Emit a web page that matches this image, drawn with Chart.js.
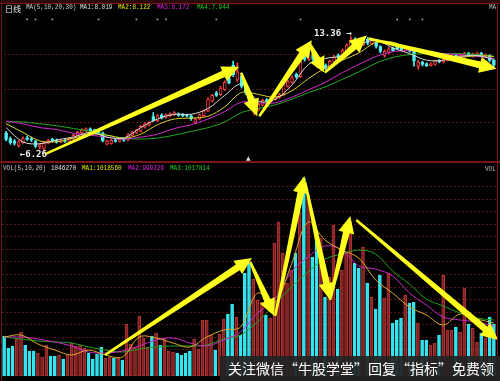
<!DOCTYPE html>
<html><head><meta charset="utf-8">
<script src="https://cdn.jsdelivr.net/npm/chart.js@4.4.1/dist/chart.umd.min.js"></script>
<style>
html,body{margin:0;padding:0;background:#000;width:500px;height:381px;overflow:hidden;}
#wrap{position:relative;width:500px;height:381px;overflow:hidden;background:#000;}
canvas{position:absolute;left:0;}
.t{position:absolute;font:8px "Liberation Mono",monospace;line-height:8px;white-space:nowrap;transform:scaleX(0.75);transform-origin:0 0;}
.ln{position:absolute;}
#wm{position:absolute;left:220px;top:356px;width:280px;height:25px;background:rgba(36,36,36,0.93);}
#wmt{position:absolute;left:228px;top:359px;font:14px "Noto Sans CJK SC",sans-serif;color:#fff;line-height:18px;white-space:nowrap;}
</style></head>
<body>
<div id="wrap">
  <div class="ln" style="left:0;top:0;width:500px;height:3px;background:#2c0b0b"></div>
  <div class="ln" style="left:0;top:3px;width:500px;height:1px;background:#7a1515"></div>
  <canvas id="pc" width="500" height="156" style="top:5px"></canvas>
  <canvas id="vc" width="500" height="215" style="top:163px"></canvas>
  <div class="ln" style="left:1px;top:4px;width:1px;height:377px;background:#6a1414"></div>
  <div class="ln" style="left:497px;top:4px;width:1px;height:377px;background:#8b1a1a"></div>
  <div class="ln" style="left:0;top:161px;width:500px;height:2px;background:#7a1515"></div>

  <div class="t" style="left:5px;top:3px;font:8px 'Noto Sans CJK SC';transform:none;color:#e8e8e8">日线</div>
  <div class="t" style="left:26px;top:3px;color:#d0d0d0">MA(5,10,20,30)</div>
  <div class="t" style="left:80px;top:3px;color:#e0e0e0">MA1:8.019</div>
  <div class="t" style="left:118px;top:3px;color:#e6e600">MA2:8.122</div>
  <div class="t" style="left:157px;top:3px;color:#e020e0">MA3:8.172</div>
  <div class="t" style="left:197px;top:3px;color:#20d020">MA4:7.944</div>
  <div class="t" style="left:489px;top:3px;color:#bbbbbb">MA</div>
  <div class="t" style="left:246px;top:154px;font:6px 'DejaVu Sans';transform:none;color:#dddddd">▲</div>

  <div class="t" style="left:3px;top:164px;color:#d0d0d0">VOL(5,10,20)</div>
  <div class="t" style="left:51px;top:164px;color:#e0e0e0">1046270</div>
  <div class="t" style="left:82px;top:164px;color:#e6e600">MA1:1018560</div>
  <div class="t" style="left:128px;top:164px;color:#e020e0">MA2:999226</div>
  <div class="t" style="left:170px;top:164px;color:#20d020">MA3:1017814</div>
  <div class="t" style="left:485px;top:165px;color:#bbbbbb">VOL</div>

  <div id="wm"></div>
  <div id="wmt">关注微信“牛股学堂”回复“指标”免费领</div>
</div>
<script>
// ---------- data ----------
const openP = [7.45,7.10,6.95,6.65,6.85,7.15,7.10,6.95,6.60,6.50,
 6.82,7.05,7.00,6.88,7.00,6.92,7.08,7.28,7.45,7.58,
 7.70,7.62,7.55,7.45,6.75,6.80,7.02,6.92,7.08,7.00,
 7.30,7.45,7.55,7.80,7.92,8.45,8.20,8.55,8.40,8.50,
 8.55,8.62,8.58,8.55,8.50,8.10,8.30,8.50,8.80,9.40,
 9.90,9.80,10.10,10.80,11.60,10.70,10.95,10.30,9.95,8.70,
 8.85,9.15,9.50,9.38,9.50,9.62,9.80,10.30,10.55,11.05,
 10.90,12.10,11.95,12.30,11.90,11.40,11.60,11.45,11.80,12.20,
 12.10,12.45,12.75,13.20,13.05,12.85,13.20,12.90,13.00,12.75,
 12.20,12.40,12.65,12.75,12.65,12.55,12.60,12.45,11.55,11.80,
 11.70,11.58,11.65,11.90,11.80,11.90,12.00,12.20,12.05,12.15,
 12.35,12.15,12.25,12.35,12.15,12.20,11.90];
const closeP = [7.05,6.85,6.80,6.90,7.10,7.05,7.00,6.62,6.70,6.85,
 6.98,6.95,6.88,6.98,6.92,7.10,7.30,7.48,7.62,7.70,
 7.58,7.52,7.45,6.95,6.95,7.00,6.92,7.05,6.98,7.35,
 7.50,7.62,7.85,8.00,8.10,8.20,8.50,8.35,8.55,8.62,
 8.70,8.52,8.50,8.48,8.30,8.30,8.55,8.80,9.50,9.75,
 9.75,10.20,10.55,10.50,11.00,11.20,10.30,9.90,9.10,8.90,
 9.20,9.45,9.38,9.55,9.68,9.80,10.40,10.60,10.85,10.90,
 11.80,11.95,12.25,11.95,11.55,11.60,11.40,11.85,12.10,12.05,
 12.50,12.80,13.15,12.95,12.80,13.05,12.95,13.10,12.75,12.45,
 12.45,12.60,12.50,12.60,12.55,12.62,12.45,11.85,11.80,11.65,
 11.58,11.68,11.85,11.80,11.95,12.05,12.15,12.05,12.20,12.35,
 12.20,12.30,12.35,12.20,12.25,11.90,11.60];
const highP = [7.55,7.20,7.05,6.98,7.20,7.25,7.20,7.00,6.78,6.90,
 7.05,7.12,7.08,7.05,7.06,7.16,7.36,7.55,7.70,7.76,
 7.76,7.68,7.62,7.50,7.00,7.05,7.08,7.10,7.12,7.40,
 7.55,7.68,7.92,8.08,8.15,8.70,8.58,8.62,8.62,8.68,
 8.76,8.68,8.64,8.60,8.56,8.36,8.62,8.86,9.60,9.82,
 10.00,10.30,10.65,10.95,11.85,11.75,11.10,10.40,10.00,9.00,
 9.28,9.52,9.56,9.62,9.75,9.88,10.50,10.70,10.95,11.12,
 11.95,12.30,12.45,12.40,12.00,11.70,11.68,11.92,12.20,12.30,
 12.60,12.90,13.36,13.30,13.15,13.15,13.30,13.20,13.05,12.80,
 12.55,12.70,12.72,12.85,12.72,12.70,12.65,12.50,11.90,11.85,
 11.75,11.75,11.90,11.95,12.00,12.10,12.20,12.25,12.25,12.40,
 12.40,12.35,12.40,12.40,12.30,12.25,11.95];
const lowP = [6.95,6.75,6.70,6.58,6.80,6.98,6.92,6.55,6.45,6.26,
 6.78,6.90,6.82,6.84,6.86,6.88,7.04,7.24,7.40,7.52,
 7.52,7.46,7.40,6.90,6.70,6.75,6.88,6.88,6.92,6.96,
 7.26,7.40,7.50,7.74,7.88,8.15,8.15,8.30,8.35,8.45,
 8.50,8.46,8.44,8.42,8.22,8.02,8.25,8.45,8.75,9.35,
 9.68,9.75,10.05,10.45,10.90,10.60,10.20,9.80,9.05,8.55,
 8.80,9.10,9.30,9.32,9.45,9.58,9.75,10.25,10.50,10.80,
 10.85,11.85,11.90,11.80,11.45,11.30,11.30,11.40,11.75,11.95,
 12.05,12.40,12.70,12.85,12.70,12.80,12.85,12.85,12.65,12.35,
 12.10,12.30,12.45,12.55,12.50,12.50,12.40,11.55,11.35,11.55,
 11.52,11.55,11.60,11.75,11.75,11.85,11.95,12.00,12.00,12.10,
 12.15,12.10,12.20,12.15,12.10,11.80,11.50];
const volume = [800000,560000,600000,740000,880000,620000,500000,500000,460000,380000,
 620000,400000,400000,420000,340000,420000,660000,600000,620000,560000,
 460000,340000,440000,580000,360000,380000,360000,380000,320000,1040000,
 640000,580000,1200000,760000,580000,800000,860000,620000,760000,500000,
 480000,460000,420000,460000,500000,740000,540000,1120000,1120000,820000,
 520000,840000,1140000,1240000,1440000,1180000,820000,2060000,2260000,1940000,
 1520000,1480000,1220000,1160000,2660000,3080000,2460000,1860000,2120000,2460000,
 3280000,3960000,3620000,2380000,2880000,2760000,1580000,1980000,3020000,1740000,
 2120000,2460000,3080000,2260000,2160000,2580000,1860000,1580000,1340000,2020000,
 1560000,2060000,1060000,1120000,1160000,1620000,1460000,1480000,1060000,720000,
 720000,620000,660000,820000,2020000,920000,920000,980000,880000,1760000,
 1040000,960000,680000,860000,760000,1180000,1040000];

// moving-average lines at every 4th bar
const maAt = [0,4,8,12,16,20,24,28,32,36,40,44,48,52,56,60,64,68,72,76,80,84,88,92,96,100,104,108,112,116];
const priceMA5  = [7.77,6.90,6.78,7.02,7.19,7.48,7.19,7.13,7.77,8.30,8.59,8.59,8.94,9.75,10.45,9.40,9.52,10.39,11.67,12.02,12.19,12.84,13.13,12.66,12.31,11.91,11.91,12.14,12.19,11.96];
const priceMA10 = [8.01,7.48,6.96,6.90,7.13,7.37,7.31,7.13,7.37,7.95,8.30,8.36,8.47,9.05,9.93,9.81,9.64,10.04,10.80,11.44,11.91,12.37,13.01,13.01,12.60,12.31,12.08,12.08,12.19,12.14];
const priceMA20 = [8.18,8.01,7.77,7.66,7.42,7.31,7.19,7.07,7.19,7.37,7.72,7.95,8.30,8.76,9.34,9.29,9.29,9.64,10.10,10.57,11.15,11.67,12.14,12.43,12.49,12.43,12.31,12.25,12.14,12.02];
const priceMA30 = [8.12,8.12,8.01,7.89,7.72,7.54,7.31,7.13,7.07,7.13,7.31,7.54,7.77,8.12,8.70,8.94,9.17,9.52,9.93,10.28,10.74,11.21,11.73,12.08,12.25,12.31,12.31,12.31,12.25,12.14];
const volMA5  = [780000,820000,640000,520000,420000,520000,420000,380000,780000,760000,660000,580000,780000,920000,980000,1660000,1460000,2220000,3080000,2720000,2520000,2360000,1920000,1660000,1380000,1220000,1020000,1240000,1140000,1060000];
const volMA10 = [780000,780000,740000,680000,600000,480000,460000,500000,600000,720000,760000,660000,600000,720000,880000,1260000,1520000,2080000,2380000,2600000,2520000,2200000,2140000,2000000,1660000,1420000,1180000,1120000,1080000,1000000];
const volMA20 = [780000,740000,700000,680000,660000,580000,520000,480000,540000,580000,600000,600000,620000,740000,820000,1080000,1420000,1780000,2080000,2340000,2440000,2520000,2440000,2100000,1840000,1540000,1400000,1260000,1160000,1120000];

const priceGrid = [8.06,10.10,12.25];
const volGrid = [3786000,3535000,3284000,3033000,2782000,2531000,2280000,2029000,1778000,1527000,1276000,1025000,774000,523000];
const markIdx = [5,7,11,22,31,36,38,50,70,93,96,99];
const markLevel = 14.41;

// arrows in data space: [fromIndex, fromValue, toIndex, toValue]
const priceArrows = [[9.2,6.14,55.4,11.50],[55.9,11.15,59.7,8.47],[60.2,8.47,72.7,13.13],[72.0,13.01,75.6,11.15],[75.8,11.15,85.8,13.42],[86.2,13.24,116.6,11.38]];
const volArrows = [[23.9,420000,58.7,2360000],[58.3,2280000,64.0,1200000],[64.2,1200000,71.1,4000000],[71.3,3880000,77.2,1520000],[77.2,1520000,82.0,3200000],[83.4,3120000,117.0,720000]];

// ---------- styles ----------
const UP = '#ff3c3c', DOWN = '#4ff0f4';
const VUP_FILL = '#7d2222', VUP_EDGE = '#b83434', VDOWN = '#36e4ee';
const idx = openP.map((_, i) => i);
const isUp = i => closeP[i] >= openP[i];

function drawArrow(ctx, x0, y0, x1, y1) {
  const dx = x1 - x0, dy = y1 - y0, L = Math.hypot(dx, dy);
  const ux = dx / L, uy = dy / L, nx = -uy, ny = ux;
  const H = Math.min(17, L * 0.45), W = 8, w0 = 1.2, w1 = 3.4;
  const bx = x1 - ux * H, by = y1 - uy * H;
  ctx.beginPath();
  ctx.moveTo(x0 + nx * w0, y0 + ny * w0);
  ctx.lineTo(bx + nx * w1, by + ny * w1);
  ctx.lineTo(bx + nx * W, by + ny * W);
  ctx.lineTo(x1, y1);
  ctx.lineTo(bx - nx * W, by - ny * W);
  ctx.lineTo(bx - nx * w1, by - ny * w1);
  ctx.lineTo(x0 - nx * w0, y0 - ny * w0);
  ctx.closePath();
  ctx.fillStyle = '#ffff1e';
  ctx.fill();
}

const overlay = {
  id: 'overlay',
  afterDatasetsDraw(chart, args, opts) {
    const ctx = chart.ctx, xs = chart.scales.x, ys = chart.scales.y;
    ctx.save();
    (opts.arrows || []).forEach(a => drawArrow(ctx,
      xs.getPixelForValue(a[0]), ys.getPixelForValue(a[1]),
      xs.getPixelForValue(a[2]), ys.getPixelForValue(a[3])));
    if (opts.extremes) {
      ctx.font = 'bold 9px "DejaVu Sans Mono"';
      ctx.fillStyle = '#f0f0f0';
      ctx.textBaseline = 'middle';
      ctx.textAlign = 'right';
      const lo = Math.min(...lowP), li = lowP.indexOf(lo);
      const hi = Math.max(...highP), hj = highP.indexOf(hi);
      ctx.fillText('←' + lo.toFixed(2), xs.getPixelForValue(li) + 3, ys.getPixelForValue(lo) + 2);
      ctx.fillText(hi.toFixed(2) + ' →', xs.getPixelForValue(hj) + 1, ys.getPixelForValue(hi) - 3);
    }
    ctx.restore();
  }
};

function maLine(arr, color) {
  return { type: 'line', data: maAt.map((i, k) => ({ x: i, y: arr[k] })), borderColor: color,
    borderWidth: 1, pointRadius: 0, tension: 0.35, order: 1 };
}
function baseOptions(min, max, grid, extra) {
  return {
    responsive: false, animation: false, events: [],
    layout: { padding: { left: 2, right: 4, top: 0, bottom: 0 } },
    plugins: { legend: { display: false }, tooltip: { enabled: false }, overlay: extra },
    scales: {
      x: { type: 'linear', min: -0.5, max: 116.5, offset: false, display: false },
      y: { type: 'linear', min: min, max: max, position: 'left',
        ticks: { display: false },
        grid: { color: '#5a1313', lineWidth: 1, drawTicks: false },
        border: { display: false, dash: [2, 2] },
        afterBuildTicks: s => { s.ticks = grid.map(v => ({ value: v })); },
        afterFit: s => { s.width = 0; } }
    }
  };
}

// ---------- price chart ----------
new Chart(document.getElementById('pc'), {
  type: 'bar',
  data: { datasets: [
    maLine(priceMA5, '#d6d6d6'),
    maLine(priceMA10, '#d8d030'),
    maLine(priceMA20, '#d22ad2'),
    maLine(priceMA30, '#22aa22'),
    { type: 'scatter', data: markIdx.map(i => ({ x: i, y: markLevel })), pointStyle: 'rect',
      pointRadius: 1.2, backgroundColor: '#a0a0a0', borderWidth: 0, order: 2 },
    { label: 'body', data: idx.map(i => ({ x: i, y: [openP[i], closeP[i]] })),
      backgroundColor: idx.map(i => isUp(i) ? '#000000' : DOWN),
      borderColor: idx.map(i => isUp(i) ? UP : DOWN),
      borderWidth: 1, borderSkipped: false, barThickness: 3, minBarLength: 1, grouped: false, order: 3 },
    { label: 'wick', data: idx.map(i => ({ x: i, y: [lowP[i], highP[i]] })),
      backgroundColor: idx.map(i => isUp(i) ? UP : DOWN),
      borderWidth: 0, barThickness: 1, grouped: false, order: 4 }
  ] },
  options: baseOptions(5.97, 15.05, priceGrid, { arrows: priceArrows, extremes: true }),
  plugins: [overlay]
});

// ---------- volume chart ----------
new Chart(document.getElementById('vc'), {
  type: 'bar',
  data: { datasets: [
    maLine(volMA5, '#d8a828'),
    maLine(volMA10, '#c92ac9'),
    maLine(volMA20, '#22a022'),
    { label: 'vol', data: idx.map(i => ({ x: i, y: volume[i] })),
      backgroundColor: idx.map(i => isUp(i) ? VUP_FILL : VDOWN),
      borderColor: idx.map(i => isUp(i) ? VUP_EDGE : VDOWN),
      borderWidth: 1, borderSkipped: false, barThickness: 3, grouped: false, order: 3 }
  ] },
  options: baseOptions(-40000, 4260000, volGrid, { arrows: volArrows }),
  plugins: [overlay]
});
</script>
</body></html>
